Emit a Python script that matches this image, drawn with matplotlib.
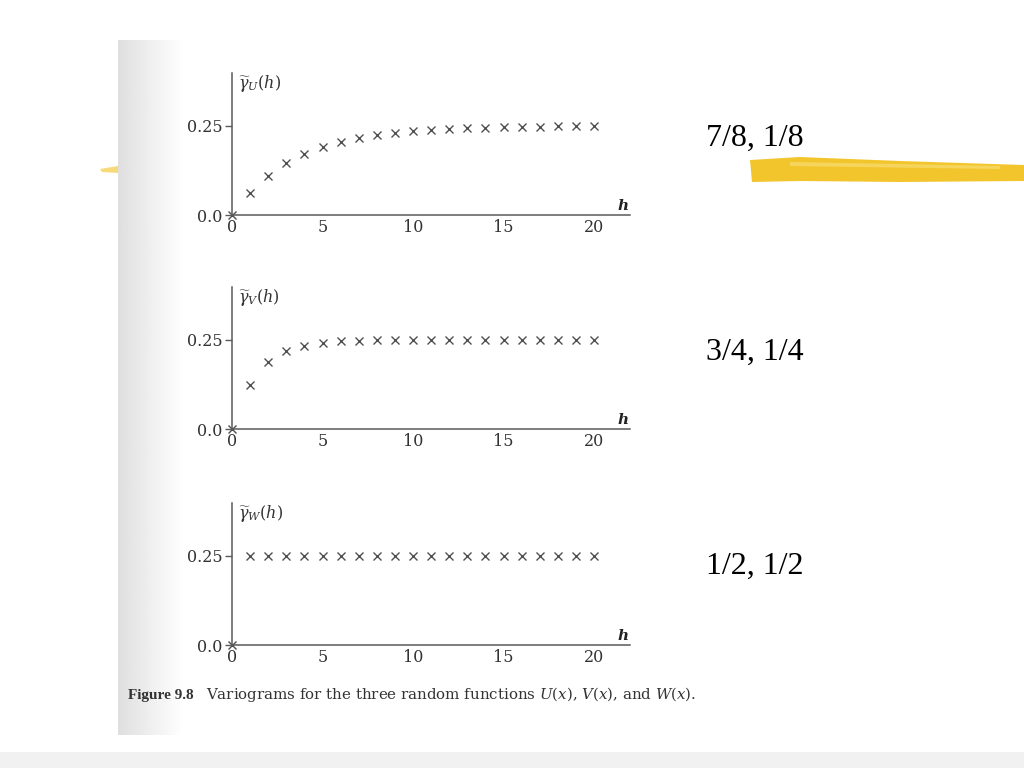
import numpy as np
import matplotlib
matplotlib.use("Agg")
import matplotlib.pyplot as plt
from matplotlib.patches import Polygon

plt.rcParams['mathtext.fontset'] = 'dejavuserif'

# ---- data ----
lags = [0, 1, 2, 3, 4, 5, 6, 7, 8, 9, 10, 11, 12, 13, 14, 15, 16, 17, 18, 19, 20]
gamma_U = [0.0, 0.062, 0.109, 0.145, 0.171, 0.190, 0.205, 0.216, 0.224, 0.229, 0.235,
           0.238, 0.241, 0.243, 0.245, 0.247, 0.247, 0.248, 0.249, 0.249, 0.249]
gamma_V = [0.0, 0.125, 0.188, 0.219, 0.234, 0.242, 0.246, 0.248, 0.249, 0.250, 0.250,
           0.250, 0.250, 0.250, 0.250, 0.250, 0.250, 0.250, 0.250, 0.250, 0.250]
gamma_W = [0.0, 0.25, 0.25, 0.25, 0.25, 0.25, 0.25, 0.25, 0.25, 0.25, 0.25,
           0.25, 0.25, 0.25, 0.25, 0.25, 0.25, 0.25, 0.25, 0.25, 0.25]
ylabels = [r'$\widetilde{\gamma}_U(h)$', r'$\widetilde{\gamma}_V(h)$', r'$\widetilde{\gamma}_W(h)$']
side_labels = ['7/8, 1/8', '3/4, 1/4', '1/2, 1/2']
x_ticks = [0, 5, 10, 15, 20]
y_ticks = [0.0, 0.25]
y_ticklabels = ['0.0', '0.25']
caption_bold = 'Figure 9.8'
caption_text = r'Variograms for the three random functions $U(x)$, $V(x)$, and $W(x)$.'

W, H = 1024, 768
fig = plt.figure(figsize=(W / 100, H / 100), dpi=100)
fig.patch.set_facecolor('white')

# page background with shaded left edge
bg = fig.add_axes([0, 0, 1, 1], zorder=-10)
bg.set_xlim(0, W)
bg.set_ylim(H, 0)
bg.axis('off')
grad = np.linspace(0.80, 1.0, 64)[None, :] ** 0.6
bg.imshow(np.repeat(grad, 2, axis=0), cmap='gray', vmin=0, vmax=1,
          extent=[118, 185, 735, 40], aspect='auto', interpolation='bilinear')
bg.add_patch(plt.Rectangle((0, 752), W, 16, color='#f1f1f1', lw=0))

# yellow highlighter strokes
hl = Polygon([[750, 160], [800, 157], [900, 161], [1024, 165], [1024, 181],
              [900, 182], [800, 181], [752, 182]], closed=True,
             facecolor='#F3C221', edgecolor='none', alpha=0.95)
bg.add_patch(hl)
hl_light = Polygon([[790, 162], [1000, 166], [1000, 169], [790, 166]], closed=True,
                   facecolor='#F8DA6A', edgecolor='none', alpha=0.8)
bg.add_patch(hl_light)
hl2 = Polygon([[100, 169], [118, 166], [118, 173], [102, 172]], closed=True,
              facecolor='#F3C221', edgecolor='none', alpha=0.6)
bg.add_patch(hl2)

series = [gamma_U, gamma_V, gamma_W]
zero_px = [215, 429, 645]
side_y = [138, 352, 566]
axis_col = '#5a5a5a'
for i, vals in enumerate(series):
    x0 = 232
    x1 = 232 + 22 * 18.1
    y0 = zero_px[i]
    ytop = y0 - 0.40 * 356
    ax = fig.add_axes([x0 / W, (H - y0) / H, (x1 - x0) / W, (y0 - ytop) / H])
    ax.set_facecolor('none')
    ax.plot(lags, vals, linestyle='none', marker='x', markersize=5.5,
            mew=1.0, color='#505050', clip_on=False)
    ax.set_xlim(0, 22)
    ax.set_ylim(0, 0.40)
    for s in ['top', 'right']:
        ax.spines[s].set_visible(False)
    for s in ['left', 'bottom']:
        ax.spines[s].set_color(axis_col)
        ax.spines[s].set_linewidth(1.1)
    ax.set_xticks(x_ticks)
    ax.set_yticks(y_ticks)
    ax.set_yticklabels(y_ticklabels)
    ax.tick_params(axis='x', length=0, pad=3, labelsize=11.5, labelcolor='#333333')
    ax.tick_params(axis='y', length=5, width=1.0, color=axis_col, pad=2,
                   labelsize=11.5, labelcolor='#333333')
    for lab in ax.get_xticklabels() + ax.get_yticklabels():
        lab.set_fontfamily('DejaVu Serif')
    ax.text(0.015, 1.0, ylabels[i], transform=ax.transAxes, ha='left', va='top',
            fontsize=11.5, color='#333333')
    ax.text(0.995, 0.015, 'h', transform=ax.transAxes, ha='right', va='bottom',
            fontsize=11, fontweight='bold', fontstyle='italic',
            family='DejaVu Serif', color='#222222')
    fig.text(755 / W, 1 - side_y[i] / H, side_labels[i], ha='center', va='center',
             fontsize=23, family='Liberation Serif', color='black')

fig.text(128 / W, 1 - 695 / H, caption_bold, ha='left', va='center', fontsize=11,
         fontweight='bold', family='Liberation Serif', color='#333333')
fig.text(206 / W, 1 - 695 / H, caption_text, ha='left', va='center', fontsize=10.8,
         family='DejaVu Serif', color='#333333')

fig.savefig('out.png', dpi=100)
